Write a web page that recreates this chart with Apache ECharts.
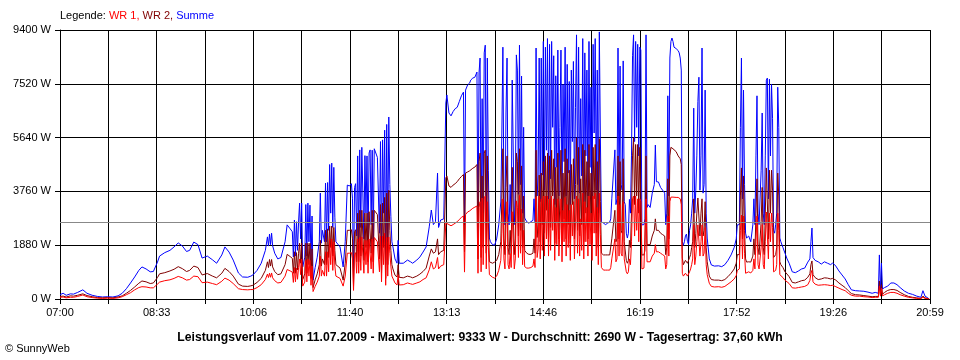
<!DOCTYPE html>
<html><head><meta charset="utf-8">
<script src="https://cdn.jsdelivr.net/npm/echarts@6/dist/echarts.min.js"></script>
<style>html,body{margin:0;padding:0;background:#fff}#c{width:960px;height:360px}</style>
</head><body><div id="c"></div>
<script>
// minutes after 07:00
var t = [0,3,6,10,13,17,22,26,31,36,41,46,51,56,60,64,68,72,76,79,83,87,90,94,96,101,106,110,114,118,122,125,129,133,137,142,147,151,156,159,163,167,172,176,181,184,
186,190,194,198,200,201,202,203,204,205,207,210,213,217,219,222,224,225,226,227,228,229,230,231,232,233,234,236,237,238,239,240,241,242,243,244,246,248,250,251,252,253,255,256,257,258,259,260,261,262,263,264,265,266,267,270,273,275,277,279,281,282,283,284,285,286,287,288,289,290,291,292,293,294,295,296,297,298,299,300,301,302,303,304,306,307,308,309,310,311,312,313,314,315,316,317,318,319,320,321,323,325,326,327,331,335,338,340,344,347,350,353,356,358,360,362,364,365,367,370,371,
372,373,375,377,379,381,383,385,387,389,390,391,393,395,396,398,400,402,
403,404,405,406,407,408,409,410,411,412,413,414,415,417,419,421,423,425,426,427,428,429,430,431,432,433,434,435,436,437,438,439,440,441,442,443,444,445,446,447,448,450,452,454,456,457,458,459,460,461,462,463,464,465,466,467,468,469,470,471,472,473,474,475,476,477,478,479,480,481,482,483,484,485,486,487,488,489,490,491,492,493,494,495,496,497,498,499,500,501,502,503,504,505,506,507,508,509,510,511,512,513,514,515,516,517,518,519,520,521,522,524,526,528,530,
531,532,533,535,536,537,538,539,540,541,542,543,544,545,546,547,548,549,550,551,552,553,554,555,556,557,558,559,560,561,563,564,565,566,567,569,571,573,574,575,577,579,581,583,584,585,586,587,588,589,590,591,592,594,595,596,597,598,599,600,601,602,603,604,605,606,607,608,609,610,611,612,613,614,615,616,617,618,619,620,621,622,623,624,626,628,631,635,638,641,644,647,650,652,
653,654,655,656,657,658,659,660,661,662,664,666,668,669,670,671,672,673,674,675,676,677,678,679,680,681,682,683,684,685,686,687,688,689,690,691,692,693,694,695,697,699,
701,703,706,709,712,715,718,721,723,724,725,726,728,731,734,737,740,743,745,748,751,754,757,760,763,767,771,775,779,783,786,789,790,791,792,793,795,798,801,804,807,810,814,818,822,826,830,832,834,837,838];

var summe = [150,200,130,180,170,230,320,200,130,90,70,80,70,110,200,360,560,770,1000,1120,1050,950,960,1290,1500,1620,1700,1820,1960,1850,1660,1700,1990,1900,1430,1500,1370,1250,1540,1820,1640,1360,910,770,760,800,
840,1000,1250,1700,2170,1850,2270,1900,2300,1860,1600,1400,1450,2000,2590,2450,2350,1470,2760,1500,2700,1700,2690,3350,2100,3350,1120,1460,3300,1500,3350,2000,3280,1200,2900,660,1100,1460,2000,3700,1950,2400,2000,4050,2000,4070,2400,4700,3000,4750,2500,4600,2860,2000,1960,1820,1120,2000,3980,3950,4030,3500,800,3900,4030,2200,5000,2000,5210,2500,5300,5310,2100,5010,3000,5000,2000,5100,5210,2600,5200,2000,5250,5280,4950,4930,2300,5500,1500,5560,3000,5900,1200,6100,2000,6360,4000,2890,2000,1820,1400,1250,2050,1250,1250,1360,1300,1250,1360,1470,1640,1820,2520,3110,2600,2700,4400,2500,2760,2800,2760,
6850,7130,6500,6400,6550,6650,6700,6900,7100,7230,2590,7300,7480,7550,7650,7720,7750,7930,
2130,7900,8420,2200,7000,3000,8600,8870,2590,8420,4500,2130,2000,1900,1880,2100,2590,3390,5800,8800,3500,2590,6500,8420,3000,2590,4000,2700,7650,7600,2600,3500,8530,8000,3660,8870,4000,7790,3000,6000,2830,2700,2650,2700,2750,3500,2700,8770,3600,4330,8420,3400,8420,4330,9000,3800,8800,5200,9100,3500,8900,4200,9000,6000,8500,3300,7800,4600,8700,3600,6000,8700,3200,7500,4800,8800,3600,8200,4400,7600,3300,8000,5500,8300,3500,6700,9230,4000,8800,3700,7000,4300,9100,3400,8600,5000,8000,3600,9000,4600,7400,3300,8900,5800,9100,3800,8000,3000,9333,5630,2700,2650,2600,2650,2690,
2800,3500,3530,5210,3300,3500,8770,3600,8140,4000,3800,8320,3400,3300,2300,2130,2300,3480,3000,5000,8500,9230,5500,9000,6000,8900,5000,8800,8700,2590,2600,2800,9230,3200,3300,3200,3700,4000,5380,4100,4090,3900,3800,3700,2600,3000,7100,3600,8420,9000,9120,9000,8800,8750,8770,8680,8600,8420,8000,2000,1880,2000,2200,2270,2000,1900,2400,2590,3000,3500,6670,3000,3800,5000,6900,7750,3800,5000,8770,3700,4000,7300,3000,2130,1400,1190,1150,1160,1130,1200,1350,1540,1800,2100,
2590,2600,2600,6000,8420,3500,7300,4000,2300,2130,2200,2000,2590,3500,2600,5000,7100,3000,2600,2590,4500,6500,3000,2600,5000,7650,7720,3500,7680,5000,7500,6300,2400,2300,2600,3000,7400,6000,2130,2000,1800,1600,
1400,1250,950,920,980,1050,1080,1290,1400,2000,2480,1450,1350,1300,1220,1300,1250,1200,1260,1150,980,840,700,500,320,290,280,270,240,200,230,200,1540,300,1250,350,400,450,560,560,500,400,280,200,160,100,60,290,100,30,0];

var wr2 = [90,100,70,110,100,130,180,120,80,50,40,50,40,70,110,200,300,420,550,630,600,540,560,750,880,920,980,1040,1130,1060,960,1000,1150,1100,840,890,800,740,900,1070,960,800,520,450,440,460,
480,580,720,1000,1300,1100,1380,1150,1380,1120,960,850,880,1200,1560,1480,1420,900,1650,900,1620,1020,1600,1950,1250,1950,680,880,1950,900,1950,1200,1950,720,1750,400,670,880,1200,2050,1150,1400,1200,2400,1200,2450,1450,2550,1800,2550,1500,2500,1700,1200,1150,1080,660,1250,2400,2400,2420,2100,450,2350,2420,1300,3000,1300,3100,1500,3100,3100,1350,3000,1800,3000,1300,3050,3100,1600,3100,1300,3100,3110,2950,2950,1400,3300,900,3350,1800,3550,720,3700,1200,3800,2400,1700,1200,1050,830,770,1200,760,740,800,770,740,800,870,960,1080,1500,1750,1600,1650,2100,1550,1650,1700,1650,
4230,4300,3950,3900,3980,4030,4100,4200,4280,4350,1650,4400,4440,4480,4530,4570,4610,4700,
1400,4800,5100,1450,4300,1800,5100,5200,1600,5000,2700,1300,1290,1250,1290,1350,1550,2000,3500,5250,2100,1550,3900,5000,1800,1550,2400,1600,4600,4550,1550,2100,5100,4800,2200,5250,2400,4650,1800,3600,1700,1600,1560,1560,1600,2100,1600,5200,2150,2600,4330,2000,4400,2600,4800,2300,5000,3100,5100,2000,5000,2500,5200,3600,4900,1950,4600,2700,5100,2100,3600,5200,1900,4400,2800,5250,2100,4900,2600,4500,1950,4700,3300,4900,2100,4000,5630,2400,5300,2200,4200,2600,5400,2000,5200,3000,4800,2100,5400,2700,4400,1950,5300,3500,5400,2300,4800,1800,5600,3400,1600,1540,1540,1540,1540,
1600,2100,2100,3100,2000,2100,5000,2100,4800,2400,2300,4900,2000,1950,1350,1250,1350,2050,1800,3000,5000,5630,3300,5400,3600,5400,3000,5300,5300,1540,1540,1700,5000,1900,1950,1900,2200,2400,2800,2400,2400,2300,2250,2200,1550,1800,4200,2100,5000,5300,5310,5250,5200,5150,5100,5000,4970,4900,4700,1430,1200,1250,1350,1400,1250,1200,1450,1550,1800,2000,3500,1800,2300,3000,3530,3530,2200,3000,3500,2200,2400,3400,1800,1300,800,680,660,660,640,680,780,900,1050,1250,
1550,1550,1550,3600,4580,2100,4300,2400,1400,1290,1300,1290,1500,2100,1550,3000,4200,1800,1550,1540,2700,3900,1800,1550,3000,4580,4580,2100,4500,3000,4500,3800,1450,1400,1550,1800,4400,3600,1300,1200,1100,950,
870,780,580,560,600,640,660,760,880,1200,1330,850,750,680,700,740,730,700,720,660,560,480,400,290,190,150,140,120,100,80,90,90,630,150,500,170,230,300,330,330,300,230,150,90,60,40,20,100,40,10,0];

var wr1 = [60,70,40,60,60,90,140,80,50,30,20,30,20,40,80,150,220,320,400,430,420,390,390,520,590,640,670,720,790,740,660,680,800,780,570,590,540,500,620,730,660,540,360,330,320,330,
330,400,500,680,870,750,900,760,910,740,640,560,580,800,1030,980,940,580,1100,600,1080,690,1100,1400,850,1400,450,590,1350,600,1400,800,1350,480,1150,260,440,590,800,1500,800,1000,800,1650,800,1650,950,2100,1200,2100,1000,2000,1150,800,790,720,450,800,1600,1600,1620,1400,300,1550,1620,900,2100,900,2150,1000,2170,2170,900,2050,1200,2050,900,2100,2150,1050,2100,900,2150,2170,2000,2000,950,2200,600,2200,1200,2300,480,2150,800,2170,1600,1150,800,750,560,490,850,490,500,560,530,510,560,600,680,740,1020,1300,1050,1100,1450,1050,1150,1200,1150,
2660,2700,2600,2560,2600,2650,2700,2780,2850,2900,940,2950,3040,3080,3130,3170,3210,3250,
900,3200,3400,950,3530,1200,3500,3600,1050,3400,1800,850,840,760,730,800,1000,1350,2300,3500,1400,1050,2600,3400,1200,1050,1600,1100,3050,3050,1050,1400,3430,3200,1450,3620,1600,3140,1200,2400,1130,1080,1080,1100,1150,1400,1100,3570,1450,1750,3600,1400,3500,1700,3600,1500,3600,2100,3600,1500,3500,1700,3600,2400,3500,1350,3200,1900,3500,1500,2400,3500,1300,3100,2000,3550,1500,3300,1800,3100,1350,3300,2200,3400,1400,2700,3600,1600,3500,1500,2800,1700,3700,1400,3400,2000,3200,1500,3600,1900,3000,1350,3600,2300,3700,1500,3200,1200,3700,2250,1100,1010,1010,1010,1010,
1100,1400,1400,2100,1300,1400,3600,1500,3300,1600,1500,3400,1400,1350,950,880,950,1400,1200,2000,3500,3600,2200,3600,2400,3500,2000,3500,3400,1050,1080,1100,3500,1300,1350,1300,1500,1600,1900,1650,1650,1600,1550,1500,1050,1200,2900,1500,3400,3560,3560,3560,3560,3550,3550,3550,3540,3500,3300,900,800,850,900,900,800,800,950,1050,1200,1400,2590,1200,1500,2000,2590,2590,1500,2000,2590,1500,1600,2500,1200,850,550,440,420,430,410,440,520,600,700,820,
1000,1000,1050,2400,2930,1400,2900,1600,900,910,950,910,1000,1400,1050,2000,2900,1200,1050,1000,1800,2600,1200,1050,2000,3040,3040,1400,3000,2000,3000,2500,950,900,1000,1200,3000,2400,850,800,750,650,
600,540,390,380,400,420,440,500,650,900,1000,600,520,480,490,500,490,470,480,430,380,330,290,200,130,100,100,80,70,50,60,60,450,100,380,110,150,200,230,230,200,150,100,60,40,20,10,60,20,5,0];

var AVG = 2690;
var yTicks = ['0 W','1880 W','3760 W','5640 W','7520 W','9400 W'];
var START_MIN = 7*60;
var X_MAX = 838.8, X_INT = 46.6;

function zip(vals){ var out=[]; for(var i=0;i<t.length;i++) out.push([t[i], vals[i]]); return out; }
function fmtTime(v){ var m = Math.round(START_MIN + v); var h = Math.floor(m/60), mm = m%60; return (h<10?'0':'')+h+':'+(mm<10?'0':'')+mm; }

var FONT = "'Liberation Sans', Arial, sans-serif";
var chart = echarts.init(document.getElementById('c'), null, {renderer:'canvas'});
chart.setOption({
  animation:false,
  backgroundColor:'#fff',
  title:[
    {text:'{k|Legende: }{a|WR 1, }{b|WR 2, }{c|Summe}', left:60, top:10, padding:0,
     textStyle:{fontFamily:FONT, fontSize:11, fontWeight:'normal',
       rich:{k:{color:'#000',fontFamily:FONT,fontSize:11},a:{color:'#ff0000',fontFamily:FONT,fontSize:11},b:{color:'#800000',fontFamily:FONT,fontSize:11},c:{color:'#0000ff',fontFamily:FONT,fontSize:11}}}},
    {text:'Leistungsverlauf vom 11.07.2009 - Maximalwert: 9333 W - Durchschnitt: 2690 W - Tagesertrag: 37,60 kWh',
     left:'center', top:332, padding:0, textStyle:{fontFamily:FONT, fontSize:12.2, fontWeight:'bold', color:'#000'}},
    {text:'© SunnyWeb', left:5, top:343, padding:0, textStyle:{fontFamily:FONT, fontSize:11, fontWeight:'normal', color:'#000'}}
  ],
  grid:{left:60, right:30, top:30, bottom:61, containLabel:false},
  xAxis:{type:'value', min:0, max:X_MAX, interval:X_INT,
    axisLine:{show:true, lineStyle:{color:'#000', width:1}},
    axisTick:{show:true, length:5, lineStyle:{color:'#000'}},
    splitLine:{show:true, lineStyle:{color:'#000', width:1}},
    axisLabel:{color:'#000', fontFamily:FONT, fontSize:11, margin:8,
      formatter:function(v){ var k=Math.round(v/X_INT); return k%2===0 ? fmtTime(v) : ''; }}},
  yAxis:{type:'value', min:0, max:9400, interval:1880,
    axisLine:{show:true, lineStyle:{color:'#000', width:1}},
    axisTick:{show:true, length:5, lineStyle:{color:'#000'}},
    splitLine:{show:true, lineStyle:{color:'#000', width:1}},
    axisLabel:{color:'#000', fontFamily:FONT, fontSize:11, margin:9,
      formatter:function(v){ var k=Math.round(v/1880); return yTicks[k]; }}},
  series:[
    {type:'line', data:[], silent:true,
     markLine:{silent:true, symbol:['none','none'], label:{show:false}, animation:false,
       lineStyle:{color:'#888888', type:'solid', width:1}, data:[{yAxis:AVG}]}},
    {name:'Summe', type:'line', data:zip(summe), showSymbol:false, symbol:'none', lineStyle:{color:'#0000ff', width:1}, itemStyle:{color:'#0000ff'}},
    {name:'WR 2', type:'line', data:zip(wr2), showSymbol:false, symbol:'none', lineStyle:{color:'#800000', width:1}, itemStyle:{color:'#800000'}},
    {name:'WR 1', type:'line', data:zip(wr1), showSymbol:false, symbol:'none', lineStyle:{color:'#ff0000', width:1}, itemStyle:{color:'#ff0000'}}
  ]
});
</script></body></html>
